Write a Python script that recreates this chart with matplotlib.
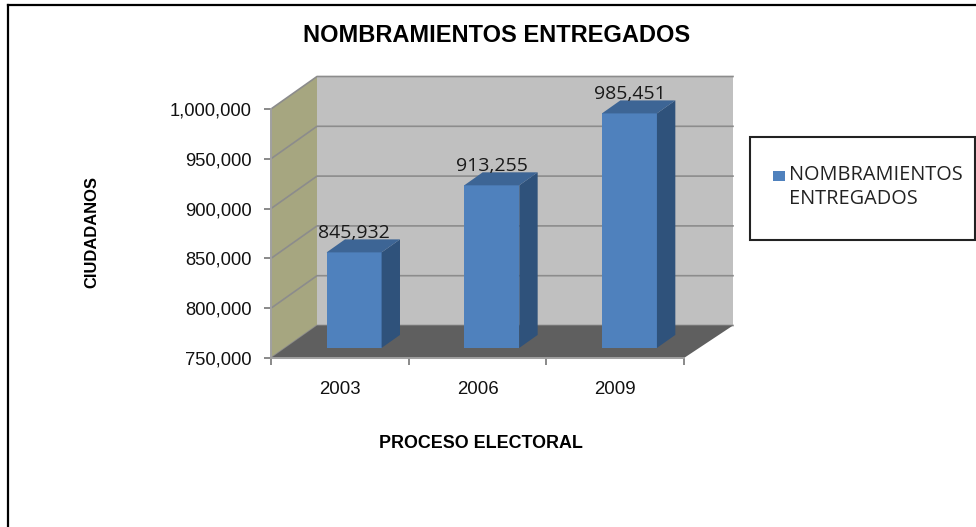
import matplotlib
matplotlib.use('Agg')
import matplotlib.pyplot as plt
from matplotlib.lines import Line2D
from matplotlib.patches import Rectangle

years = ['2003', '2006', '2009']
values = [845932, 913255, 985451]
yticks = [750000, 800000, 850000, 900000, 950000, 1000000]
title = 'NOMBRAMIENTOS ENTREGADOS'
xlabel = 'PROCESO ELECTORAL'
ylabel = 'CIUDADANOS'
legend_lines = ['NOMBRAMIENTOS', 'ENTREGADOS']

W, H = 976, 527
ARIAL = ['Liberation Sans', 'DejaVu Sans']
CALIBRI = ['Open Sans', 'DejaVu Sans']


def fx(px):
    return px / W


def fy(py):
    return 1 - py / H


fig = plt.figure(figsize=(W / 100, H / 100), dpi=100, facecolor='white')

# front plane of the fake 3d box
left, right, top, bottom = 271, 684, 109, 358
ax = fig.add_axes([fx(left), fy(bottom), (right - left) / W, (bottom - top) / H])
ax.set_xlim(0, 3)
ax.set_ylim(yticks[0], yticks[-1])
ax.patch.set_visible(False)

# depth of the box in data units, back wall is a bit wider than the front
xpx = 3 / (right - left)
ypx = (yticks[-1] - yticks[0]) / (bottom - top)
dx = 46 * xpx
dy = 32.5 * ypx
xback = 3 + 49 * xpx
ymin, ymax = yticks[0], yticks[-1]

# walls and floor
ax.fill([dx, xback, xback, dx], [ymin + dy, ymin + dy, ymax + dy, ymax + dy],
        color='#c0c0c0', lw=0, zorder=1, clip_on=False)
ax.fill([0, dx, dx, 0], [ymin, ymin + dy, ymax + dy, ymax],
        color='#a6a680', lw=0, zorder=1, clip_on=False)
ax.fill([0, 3, xback, dx], [ymin, ymin, ymin + dy, ymin + dy],
        color='#5f5f5f', lw=0, zorder=2, clip_on=False)

for t in yticks:
    ax.plot([0, dx, xback], [t, t + dy, t + dy], color='#8c8c8c', lw=1.2,
            zorder=1.5, clip_on=False)

# bars: front face then side and top
bar_w = 55 * xpx
d0 = 0.31
d1 = 0.71
for i, v in enumerate(values):
    x0 = i + 0.5 - bar_w / 2 + d0 * dx
    x1 = x0 + bar_w
    base = ymin + d0 * dy
    vtop = v + d0 * dy
    sx = (d1 - d0) * dx
    sy = (d1 - d0) * dy
    ax.bar(x0, v - ymin, width=bar_w, bottom=base, align='edge', color='#4f81bd',
           lw=0, zorder=4, clip_on=False)
    ax.fill([x1, x1 + sx, x1 + sx, x1], [base, base + sy, vtop + sy, vtop],
            color='#2f527b', lw=0, zorder=4, clip_on=False)
    ax.fill([x0, x1, x1 + sx, x0 + sx], [vtop, vtop, vtop + sy, vtop + sy],
            color='#3d6595', lw=0, zorder=4, clip_on=False)
    ax.annotate(f'{v:,}', xy=((x0 + x1) / 2, vtop), xytext=(0, 14),
                textcoords='offset points', ha='center', va='center',
                fontsize=14, family=CALIBRI, color='#1a1a1a', zorder=5,
                annotation_clip=False)

for s in ['top', 'right']:
    ax.spines[s].set_visible(False)
for s in ['left', 'bottom']:
    ax.spines[s].set_color('#a0a0a0')
    ax.spines[s].set_linewidth(1.4)

ax.set_yticks(yticks)
ax.set_yticklabels([f'{t:,}' for t in yticks], fontsize=13.2, family=ARIAL, color='#111111')
ax.set_xticks([0, 1, 2, 3])
ax.set_xticklabels([])
ax.set_xticks([0.5, 1.5, 2.5], minor=True)
ax.set_xticklabels(years, minor=True, fontsize=13.4, family=ARIAL, color='#111111')
ax.tick_params(axis='both', which='major', length=5, width=1.3, color='#808080')
ax.tick_params(axis='y', pad=9)
ax.tick_params(axis='x', which='minor', length=0, pad=16.5)

# titles
fig.text(fx(497), fy(35), title, ha='center', va='center', fontsize=17,
         fontweight='bold', family=ARIAL, color='black')
fig.text(fx(481), fy(443), xlabel, ha='center', va='center', fontsize=12.9,
         fontweight='bold', family=ARIAL, color='black')
fig.text(fx(92), fy(232), ylabel, ha='center', va='center', rotation=90, fontsize=11.9,
         fontweight='bold', family=ARIAL, color='black')

# legend box, drawn by hand like the original
fig.add_artist(Rectangle((fx(750), fy(240)), 225 / W, 103 / H, transform=fig.transFigure,
                         facecolor='white', edgecolor='#222222', lw=1.5))
fig.add_artist(Rectangle((fx(773), fy(181)), 12 / W, 10 / H, transform=fig.transFigure,
                         facecolor='#4f81bd', edgecolor='none'))
fig.text(fx(789), fy(175), legend_lines[0], ha='left', va='center', fontsize=14.3,
         family=CALIBRI, color='#222222')
fig.text(fx(789), fy(199), legend_lines[1], ha='left', va='center', fontsize=14.3,
         family=CALIBRI, color='#222222')

# outer frame: only top and left are visible
fig.add_artist(Line2D([fx(8), fx(8)], [0, fy(5)], color='black', lw=1.6))
fig.add_artist(Line2D([fx(8), 1], [fy(5), fy(5)], color='black', lw=1.6))

fig.savefig('out.png', dpi=100)
